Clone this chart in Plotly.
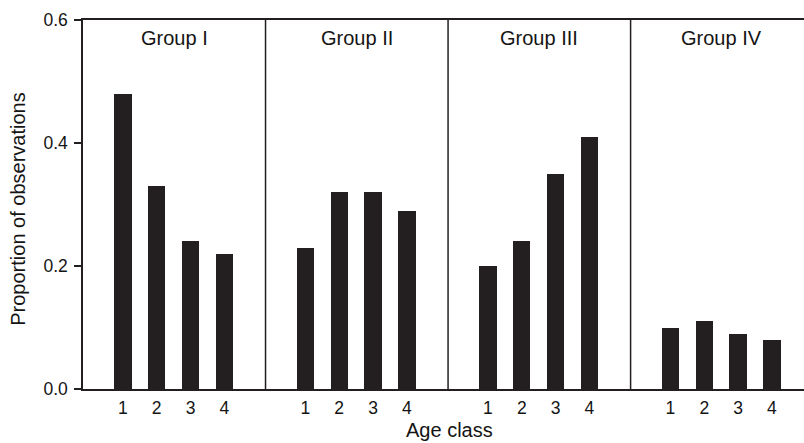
import plotly.graph_objects as go

# ---- data ----
groups = ["Group I", "Group II", "Group III", "Group IV"]
age_classes = [1, 2, 3, 4]
group_i = [0.48, 0.33, 0.24, 0.22]
group_ii = [0.23, 0.32, 0.32, 0.29]
group_iii = [0.20, 0.24, 0.35, 0.41]
group_iv = [0.10, 0.11, 0.09, 0.08]
y_ticks = [0.0, 0.2, 0.4, 0.6]
y_tick_labels = ["0.0", "0.2", "0.4", "0.6"]

series = [group_i, group_ii, group_iii, group_iv]

# ---- layout helpers ----
STEP = 5.4          # panel width in x units
EDGE = -0.18        # panel left edge relative to panel offset
INK = "#231f20"
TXT = "#141414"
FONT = "Liberation Sans, Arial, sans-serif"

xs, ys, tv, tt = [], [], [], []
for g, vals in enumerate(series):
    for a, v in zip(age_classes, vals):
        xs.append(g * STEP + a)
        ys.append(v)
        tv.append(g * STEP + a)
        tt.append(str(a))

fig = go.Figure()
fig.add_trace(go.Bar(x=xs, y=ys, width=0.515,
                     marker=dict(color=INK, line=dict(width=0)),
                     showlegend=False, hoverinfo="skip"))

shapes = []
for g in range(1, len(groups)):
    sx = g * STEP + EDGE
    shapes.append(dict(type="line", xref="x", yref="y", x0=sx, x1=sx, y0=0, y1=0.6,
                       line=dict(color=INK, width=1.5)))

annotations = []
for g, name in enumerate(groups):
    annotations.append(dict(x=g * STEP + EDGE + STEP / 2, y=0.951, xref="x", yref="paper",
                            text=name, showarrow=False, xanchor="center", yanchor="middle",
                            font=dict(family=FONT, size=20, color=TXT)))
annotations.append(dict(x=0.508, y=-0.1448, xref="paper", yref="paper", text="Age class",
                        showarrow=False, xanchor="center", yanchor="bottom", borderpad=0,
                        font=dict(family=FONT, size=20, color=TXT)))
annotations.append(dict(x=-0.09, y=0.486, xref="paper", yref="paper",
                        text="Proportion of observations", textangle=-90,
                        showarrow=False, xanchor="center", yanchor="middle",
                        font=dict(family=FONT, size=20, color=TXT)))

fig.update_layout(
    width=804, height=443,
    margin=dict(l=83, r=0, t=20, b=54),
    paper_bgcolor="white", plot_bgcolor="white",
    shapes=shapes, annotations=annotations,
    bargap=0,
    xaxis=dict(range=[EDGE, 21.15], tickvals=tv, ticktext=tt, ticks="",
               showgrid=False, zeroline=False, showline=True, mirror=True,
               linecolor=INK, linewidth=1.5, ticklabelstandoff=2,
               tickfont=dict(family=FONT, size=17.5, color=TXT)),
    yaxis=dict(range=[0, 0.6], tickvals=y_ticks, ticktext=y_tick_labels,
               ticks="outside", ticklen=7, tickwidth=1.5, tickcolor=INK,
               showgrid=False, zeroline=False, showline=True, linecolor=INK, linewidth=1.5,
               ticklabelstandoff=3,
               tickfont=dict(family=FONT, size=17.5, color=TXT)),
)

fig.write_html("out.html", config={"displayModeBar": False},
               post_script="document.body.style.margin='0';document.body.style.padding='0';")
